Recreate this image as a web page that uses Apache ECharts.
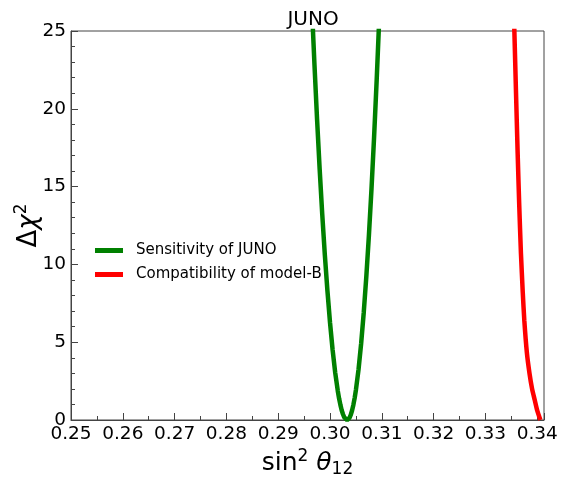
<!DOCTYPE html>
<html>
<head>
<meta charset="utf-8">
<script src="https://cdn.jsdelivr.net/npm/echarts@6/dist/echarts.min.js"></script>
<style>html,body{margin:0;padding:0;background:#fff}#c{width:561px;height:480px}</style>
</head>
<body>
<div id="c"></div>
<script>
const titleText = 'JUNO';
const seriesNames = ['Sensitivity of JUNO', 'Compatibility of model-B'];
const greenX = [0.2966, 0.2970, 0.2975, 0.2980, 0.2985, 0.2990, 0.2995, 0.3000, 0.3005, 0.3010, 0.3015, 0.30175, 0.3020, 0.30225, 0.3025, 0.30275, 0.3030, 0.3033, 0.3035, 0.30375, 0.3040, 0.30425, 0.3045, 0.30475, 0.3050, 0.3055, 0.3060, 0.3065, 0.3070, 0.3075, 0.3080, 0.3085, 0.3090, 0.3095];
const greenY = [25.8, 22.8, 19.3, 16.1, 13.2, 10.6, 8.29, 6.25, 4.50, 3.04, 1.86, 1.38, 0.97, 0.63, 0.37, 0.17, 0.05, 0.0, 0.03, 0.14, 0.33, 0.61, 0.97, 1.41, 1.94, 3.25, 4.90, 6.88, 9.20, 11.85, 14.84, 18.17, 21.83, 25.8];
const redX = [0.3355, 0.33558, 0.3359, 0.33621, 0.3365, 0.33685, 0.3372, 0.3375, 0.3380, 0.3385, 0.3390, 0.3395, 0.3400, 0.3406];
const redY = [26.0, 25.0, 21.0, 17.2, 14.0, 10.7, 8.2, 6.4, 4.3, 3.0, 2.0, 1.3, 0.6, 0.0];
const xTicks = {min: 0.25, max: 0.3413, step: 0.01};
const yTicks = {min: 0, max: 25, step: 5};

const font = 'DejaVu Sans';
const pair = (xs, ys) => xs.map((x, i) => [x, ys[i]]);
const chart = echarts.init(document.getElementById('c'), null, {renderer: 'canvas'});
const axisColor = '#444';
chart.setOption({
  animation: false,
  backgroundColor: '#fff',
  title: {text: titleText, left: 308, textAlign: 'center', top: 5,
    textStyle: {fontFamily: font, fontSize: 20, fontWeight: 'normal', color: '#000'}},
  grid: {left: 71, right: 17, top: 31, bottom: 60, show: true, borderColor: axisColor, borderWidth: 1,
    backgroundColor: 'transparent', containLabel: false, outerBoundsMode: 'none'},
  legend: {
    left: 90, top: 237, orient: 'vertical', itemWidth: 28, itemHeight: 5, itemGap: 7,
    icon: 'rect',
    textStyle: {fontFamily: font, fontSize: 15, color: '#000', lineHeight: 17, padding: [0, 0, 0, 8]},
    data: seriesNames
  },
  xAxis: {
    type: 'value', min: xTicks.min, max: xTicks.max, interval: xTicks.step,
    name: '{a|sin}{sup|2}{a| }{th|θ}{sub|12}', nameLocation: 'middle', nameGap: 28, nameMoveOverlap: false,
    nameTextStyle: {color: '#000', fontFamily: font,
      rich: {
        a: {fontFamily: font, fontSize: 25, color: '#000', lineHeight: 30},
        th: {fontFamily: font, fontSize: 25, color: '#000', fontStyle: 'italic', lineHeight: 30},
        sup: {fontFamily: font, fontSize: 17, color: '#000', verticalAlign: 'top', lineHeight: 30},
        sub: {fontFamily: font, fontSize: 17, color: '#000', verticalAlign: 'bottom', lineHeight: 30}
      }},
    axisLine: {show: true, lineStyle: {color: axisColor, width: 1}},
    axisTick: {show: true, inside: true, length: 7, lineStyle: {color: axisColor}},
    minorTick: {show: true, splitNumber: 2, length: 4, lineStyle: {color: axisColor}},
    splitLine: {show: false},
    axisLabel: {fontFamily: font, fontSize: 18.5, color: '#000', margin: 5, showMaxLabel: false,
      formatter: v => v.toFixed(2)}
  },
  yAxis: {
    type: 'value', min: yTicks.min, max: yTicks.max, interval: yTicks.step,
    name: '{a|Δ}{th|χ}{sup|2}', nameLocation: 'middle', nameRotate: 90, nameGap: 26, nameMoveOverlap: false,
    nameTextStyle: {color: '#000', fontFamily: font,
      rich: {
        a: {fontFamily: font, fontSize: 26, color: '#000', lineHeight: 32},
        th: {fontFamily: font, fontSize: 26, color: '#000', fontStyle: 'italic', lineHeight: 32},
        sup: {fontFamily: font, fontSize: 17, color: '#000', verticalAlign: 'top', lineHeight: 32}
      }},
    axisLine: {show: true, lineStyle: {color: axisColor, width: 1}},
    axisTick: {show: true, inside: true, length: 7, lineStyle: {color: axisColor}},
    minorTick: {show: true, splitNumber: 5, length: 4, lineStyle: {color: axisColor}},
    splitLine: {show: false},
    axisLabel: {fontFamily: font, fontSize: 18.5, color: '#000', margin: 5}
  },
  series: [
    {name: seriesNames[0], type: 'line', data: pair(greenX, greenY), smooth: false, showSymbol: false, symbol: 'none',
      clip: true, color: '#008000', lineStyle: {color: '#008000', width: 4.5}},
    {name: seriesNames[1], type: 'line', data: pair(redX, redY), smooth: 0.2, showSymbol: false, symbol: 'none',
      clip: true, color: '#ff0000', lineStyle: {color: '#ff0000', width: 4.5}}
  ]
});
</script>
</body>
</html>
